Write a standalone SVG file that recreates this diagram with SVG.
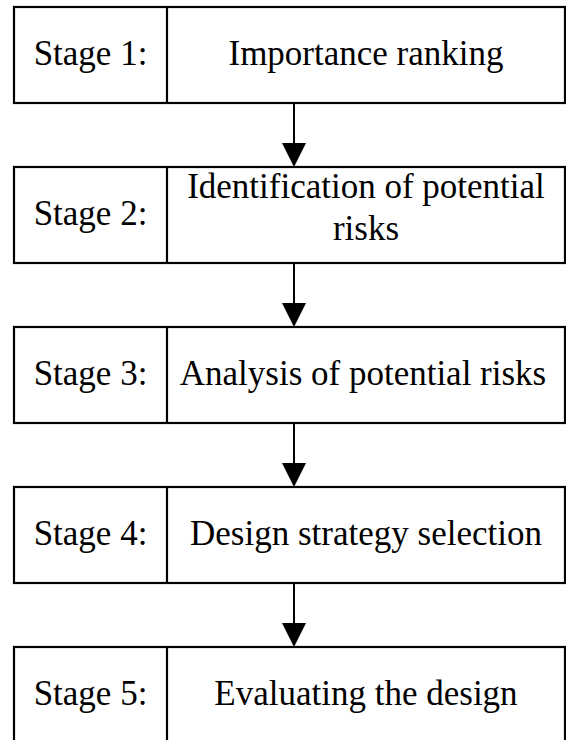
<svg xmlns="http://www.w3.org/2000/svg" width="566" height="740" viewBox="0 0 566 740">
<style>
.box{fill:#fff;stroke:#000;stroke-width:2.2}
.div{stroke:#000;stroke-width:2.2}
.t{font-family:'Liberation Serif','Times New Roman',serif;font-size:35px;fill:#000;text-anchor:middle}
.c{stroke:#000;stroke-width:2}
.h{fill:#000}
</style>
<rect width="566" height="740" fill="#fff"/>
<g id="connectors">
<line class="c" x1="294" y1="103" x2="294" y2="145"/><polygon class="h" points="282,143 306,143 294,167"/>
<line class="c" x1="294" y1="263" x2="294" y2="305"/><polygon class="h" points="282,303 306,303 294,327"/>
<line class="c" x1="294" y1="423" x2="294" y2="465"/><polygon class="h" points="282,463 306,463 294,487"/>
<line class="c" x1="294" y1="583" x2="294" y2="625"/><polygon class="h" points="282,623 306,623 294,647"/>
</g>
<g id="stage1">
<rect class="box" x="14" y="7" width="551" height="96"/>
<line class="div" x1="167" y1="7" x2="167" y2="103"/>
<text class="t" x="90.5" y="65">Stage 1:</text>
<text class="t" x="366" y="65">Importance ranking</text>
</g>
<g id="stage2">
<rect class="box" x="14" y="167" width="551" height="96"/>
<line class="div" x1="167" y1="167" x2="167" y2="263"/>
<text class="t" x="90.5" y="225">Stage 2:</text>
<text class="t" x="366" y="198">Identification of potential</text>
<text class="t" x="366" y="240">risks</text>
</g>
<g id="stage3">
<rect class="box" x="14" y="327" width="551" height="96"/>
<line class="div" x1="167" y1="327" x2="167" y2="423"/>
<text class="t" x="90.5" y="385">Stage 3:</text>
<text class="t" x="363" y="385">Analysis of potential risks</text>
</g>
<g id="stage4">
<rect class="box" x="14" y="487" width="551" height="96"/>
<line class="div" x1="167" y1="487" x2="167" y2="583"/>
<text class="t" x="90.5" y="545">Stage 4:</text>
<text class="t" x="366" y="545">Design strategy selection</text>
</g>
<g id="stage5">
<rect class="box" x="14" y="647" width="551" height="96"/>
<line class="div" x1="167" y1="647" x2="167" y2="743"/>
<text class="t" x="90.5" y="705">Stage 5:</text>
<text class="t" x="366" y="705">Evaluating the design</text>
</g>
</svg>
